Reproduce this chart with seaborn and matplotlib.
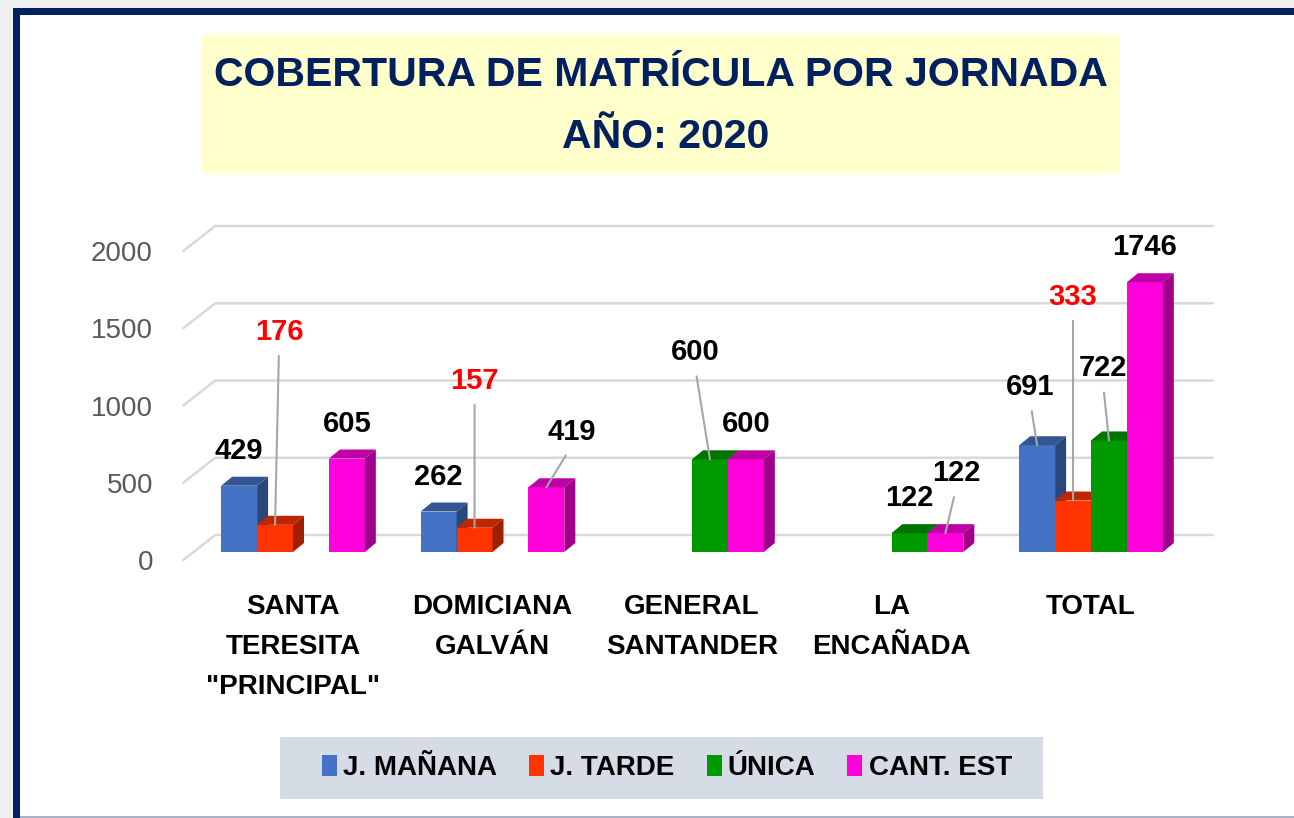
import numpy as np
import pandas as pd
import matplotlib
matplotlib.use("Agg")
import matplotlib.pyplot as plt
from matplotlib.colors import to_rgb
from matplotlib.patches import Rectangle, Polygon
from matplotlib.transforms import ScaledTranslation
import seaborn as sns

# Datos de la matrícula 2020
sedes = ['SANTA\nTERESITA\n"PRINCIPAL"', 'DOMICIANA\nGALVÁN', 'GENERAL\nSANTANDER',
         'LA\nENCAÑADA', 'TOTAL']
jornadas = ['J. MAÑANA', 'J. TARDE', 'ÚNICA', 'CANT. EST']
manana = [429, 262, np.nan, np.nan, 691]
tarde = [176, 157, np.nan, np.nan, 333]
unica = [np.nan, np.nan, 600, 122, 722]
cant_est = [605, 419, 600, 122, 1746]
y_ticks = [0, 500, 1000, 1500, 2000]

colores = ['#4472C4', '#FF3300', '#009900', '#FF00DD']
navy = '#002060'

# tamaño de la figura en pixeles
W, H = 1294, 818
DX, DY = 11, 9          # profundidad de las barras (px)
WALL_X, WALL_Y = 22, 17  # desplazamiento de la pared de fondo (px)

# etiquetas con linea guia: (sede, jornada) -> desplazamiento en px
guias = {
    (0, 1): (4, 193),
    (1, 1): (0, 147),
    (1, 3): (25, 55),
    (2, 2): (-15, 107),
    (3, 3): (11, 60),
    (4, 0): (-7, 58),
    (4, 1): (0, 204),
    (4, 2): (-6, 72),
}


def fx(x):
    return x / W


def fy(y):
    return 1 - y / H


df = pd.DataFrame({'sede': sedes, 'J. MAÑANA': manana, 'J. TARDE': tarde,
                   'ÚNICA': unica, 'CANT. EST': cant_est})
df = df.melt(id_vars='sede', var_name='jornada', value_name='valor').dropna()

sns.set_theme(style='white')
plt.rcParams['font.family'] = ['Liberation Sans', 'DejaVu Sans']

fig = plt.figure(figsize=(W / 100, H / 100), dpi=100, facecolor='white')

# marco exterior
fig.add_artist(Rectangle((0, fy(8)), 1, 8 / H, transform=fig.transFigure, color='#EFEFEF', lw=0))
fig.add_artist(Rectangle((0, 0), fx(13), 1, transform=fig.transFigure, color='#EFEFEF', lw=0))
fig.add_artist(Rectangle((fx(13), fy(15)), 1, 7 / H, transform=fig.transFigure, color=navy, lw=0))
fig.add_artist(Rectangle((fx(13), 0), 7 / W, fy(8), transform=fig.transFigure, color=navy, lw=0))
fig.add_artist(Rectangle((fx(20), 0), 1, 2.5 / H, transform=fig.transFigure, color='#A9B1C4', lw=0))

# caja del titulo
fig.add_artist(Rectangle((fx(202), fy(173)), fx(1120) - fx(202), 138 / H,
                         transform=fig.transFigure, color='#FFFFCC', lw=0))
fig.text(fx(661), fy(75), 'COBERTURA DE MATRÍCULA POR JORNADA', ha='center', va='center',
         fontsize=29.5, fontweight='bold', color=navy)
fig.text(fx(666), fy(137), 'AÑO: 2020', ha='center', va='center',
         fontsize=29.5, fontweight='bold', color=navy)

ax = fig.add_axes([fx(193.25), fy(552), 997.5 / W, 309 / H])
ax.set_facecolor('none')

sns.barplot(data=df, x='sede', y='valor', hue='jornada', order=sedes, hue_order=jornadas,
            palette=dict(zip(jornadas, colores)), width=0.72, dodge=True, errorbar=None,
            saturation=1, linewidth=0, legend=False, ax=ax)

ax.set_xlim(-0.5, 4.5)
ax.set_ylim(0, 2000)
ax.set_xlabel('')
ax.set_ylabel('')
for s in ax.spines.values():
    s.set_visible(False)

to_disp = ax.transData.transform
to_data = ax.transData.inverted().transform

# lineas de cuadricula sobre la pared del fondo
xl = to_disp((-0.5, 0))[0]
xr = to_disp((4.5, 0))[0]
for v in y_ticks:
    yv = to_disp((0, v))[1]
    pts = to_data([(xl - 10, yv - 8), (xl + WALL_X, yv + WALL_Y), (xr + WALL_X, yv + WALL_Y)])
    ax.plot(pts[:, 0], pts[:, 1], color='#D9D9D9', lw=1.8, clip_on=False, zorder=0.5)

# ejes
ax.set_yticks(y_ticks)
ax.tick_params(axis='y', length=0, pad=29, labelsize=20, labelcolor='#595959')
for lab in ax.get_yticklabels():
    lab.set_transform(lab.get_transform() + ScaledTranslation(0, -0.08, fig.dpi_scale_trans))
ax.set_xticks(range(len(sedes)))
ax.set_xticklabels(sedes, fontweight='bold', fontsize=20, color='black', linespacing=1.72)
ax.tick_params(axis='x', length=0, pad=30)

# efecto 3D de las barras + etiquetas
barras = []
for j, cont in enumerate(ax.containers):
    for p in cont.patches:
        if np.isnan(p.get_height()) or p.get_height() <= 0:
            continue
        barras.append((p.get_x(), j, p))
barras.sort(key=lambda b: b[0])

for k, (_, j, p) in enumerate(barras):
    base = colores[j]
    p.set_zorder(2 + 3 * k)
    (x0, y0), (x1, y1) = to_disp([(p.get_x(), 0), (p.get_x() + p.get_width(), p.get_height())])
    top = to_data([(x0, y1), (x1, y1), (x1 + DX, y1 + DY), (x0 + DX, y1 + DY)])
    side = to_data([(x1, y0), (x1, y1), (x1 + DX, y1 + DY), (x1 + DX, y0 + DY)])
    ax.add_patch(Polygon(top, closed=True, color=np.array(to_rgb(base)) * 0.75,
                         lw=0, zorder=3 + 3 * k, clip_on=False))
    ax.add_patch(Polygon(side, closed=True, color=np.array(to_rgb(base)) * 0.62,
                         lw=0, zorder=3 + 3 * k, clip_on=False))

    i = int(round(p.get_x() + p.get_width() / 2))
    xc = p.get_x() + p.get_width() / 2
    val = p.get_height()
    color_txt = 'red' if jornadas[j] == 'J. TARDE' else 'black'
    if (i, j) in guias:
        dx, dy = guias[(i, j)]
        ax.annotate(f'{val:.0f}', xy=(xc, val), xytext=(dx * 0.72, dy * 0.72),
                    textcoords='offset points', ha='center', va='center',
                    fontsize=21, fontweight='bold', color=color_txt, zorder=100,
                    annotation_clip=False,
                    arrowprops=dict(arrowstyle='-', color='#A6A6A6', lw=1.5,
                                    shrinkA=5, shrinkB=0, relpos=(0.5, 0)))
    else:
        ax.annotate(f'{val:.0f}', xy=(xc, val), xytext=(0, 35 * 0.72),
                    textcoords='offset points', ha='center', va='center',
                    fontsize=21, fontweight='bold', color=color_txt, zorder=100,
                    annotation_clip=False)

# leyenda
fig.add_artist(Rectangle((fx(280), fy(799)), fx(1043) - fx(280), 62 / H,
                         transform=fig.transFigure, color='#D6DCE5', lw=0))
handles = [Rectangle((0, 0), 1, 1, color=c, lw=0) for c in colores]
fig.legend(handles, jornadas, loc='center', bbox_to_anchor=(fx(667), fy(768)), ncol=4,
           frameon=False, prop={'weight': 'bold', 'size': 20}, labelcolor='black',
           handlelength=0.54, handleheight=0.8, handletextpad=0.22, columnspacing=1.15)

fig.savefig('out.png', dpi=100)
